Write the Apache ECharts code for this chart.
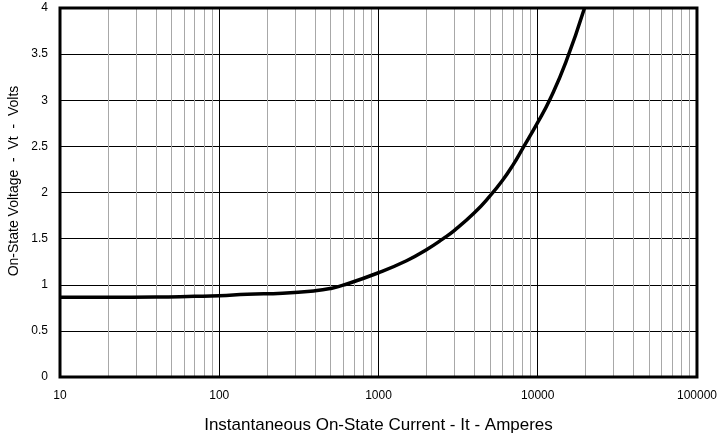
<!DOCTYPE html>
<html>
<head>
<meta charset="utf-8">
<script src="https://cdn.jsdelivr.net/npm/echarts@6/dist/echarts.min.js"></script>
<style>
html,body{margin:0;padding:0;background:#fff;}
#chart{width:720px;height:442px;}
</style>
</head>
<body>
<div id="chart"></div>
<script>
// Current (A) and on-state voltage (V)
const currents = [10, 20, 40, 70, 100, 150, 250, 400, 500, 600, 1000, 1500, 2000, 2550, 3000, 4000, 5000, 6000, 7000, 8000, 10000, 12000, 15000, 19670];
const voltages = [0.865, 0.865, 0.866, 0.874, 0.881, 0.897, 0.908, 0.935, 0.96, 0.995, 1.13, 1.26, 1.38, 1.5, 1.59, 1.78, 1.96, 2.13, 2.3, 2.47, 2.76, 3.02, 3.41, 4.0];
const xMin = 10, xMax = 100000;
const yTicks = [0, 0.5, 1, 1.5, 2, 2.5, 3, 3.5, 4];
const minorGridValues = [];
for (let d = 10; d < xMax; d *= 10) {
  for (let k = 2; k <= 9; k++) minorGridValues.push(d * k);
}
const majorGridValues = [100, 1000, 10000];
const xTitle = 'Instantaneous On-State Current - It - Amperes';
const yTitle = 'On-State Voltage  -  Vt  -  Volts';

const chart = echarts.init(document.getElementById('chart'), null, {renderer: 'canvas'});
const FONT = 'Liberation Sans, Arial, sans-serif';
chart.setOption({
  animation: false,
  backgroundColor: '#fff',
  grid: {left: 60, right: 20, top: 8, bottom: 65, show: false},
  xAxis: {
    type: 'log', logBase: 10, min: xMin, max: xMax,
    name: xTitle,
    nameLocation: 'middle', nameGap: 40,
    nameTextStyle: {fontFamily: FONT, fontSize: 17, color: '#000'},
    axisLine: {show: false},
    axisTick: {show: false},
    axisLabel: {fontFamily: FONT, fontSize: 12, color: '#000', margin: 13, formatter: v => String(v)},
    splitLine: {show: false},
    minorTick: {show: false}, minorSplitLine: {show: false}
  },
  yAxis: {
    type: 'value', min: yTicks[0], max: yTicks[yTicks.length - 1], interval: 0.5,
    axisLine: {show: false},
    axisTick: {show: false},
    axisLabel: {fontFamily: FONT, fontSize: 12, color: '#000', margin: 12},
    splitLine: {show: true, lineStyle: {color: '#000', width: 1}}
  },
  series: [
    {
      type: 'line', data: [], silent: true,
      markLine: {
        silent: true, symbol: ['none', 'none'], animation: false,
        label: {show: false},
        lineStyle: {color: '#a8a8a8', width: 1, type: 'solid'},
        data: minorGridValues.map(v => ({xAxis: v}))
      }
    },
    {
      type: 'line', data: [], silent: true,
      markLine: {
        silent: true, symbol: ['none', 'none'], animation: false,
        label: {show: false},
        lineStyle: {color: '#000', width: 1, type: 'solid'},
        data: majorGridValues.map(v => ({xAxis: v}))
      }
    },
    {
      type: 'line', smooth: 0.5, showSymbol: false, silent: true,
      lineStyle: {color: '#000', width: 3.5},
      data: currents.map((c, i) => [c, voltages[i]]),
      z: 5
    }
  ]
});
// plot frame drawn on top, y title
const tl = chart.convertToPixel({xAxisIndex: 0, yAxisIndex: 0}, [xMin, 4]);
const br = chart.convertToPixel({xAxisIndex: 0, yAxisIndex: 0}, [xMax, 0]);
chart.setOption({
  graphic: [{
    type: 'text',
    style: {text: yTitle, font: '14px ' + FONT, fill: '#000', textAlign: 'center', textVerticalAlign: 'middle'},
    rotation: Math.PI / 2, x: 14, y: 181
  }, {
    type: 'rect', z: 100, silent: true,
    shape: {x: tl[0], y: tl[1], width: br[0] - tl[0], height: br[1] - tl[1]},
    style: {fill: 'none', stroke: '#000', lineWidth: 3}
  }]
});
</script>
</body>
</html>
